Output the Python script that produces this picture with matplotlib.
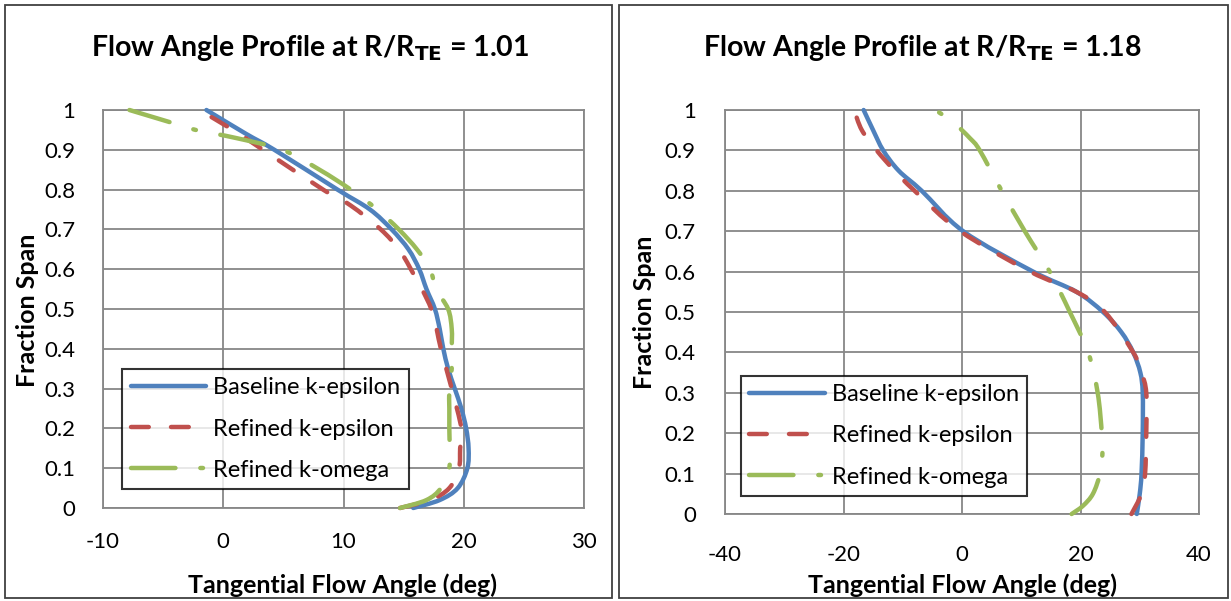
import matplotlib
matplotlib.use("Agg")
import matplotlib.pyplot as plt
from matplotlib.patches import Rectangle, PathPatch
from matplotlib.path import Path
from matplotlib.lines import Line2D

plt.rcParams['font.family'] = ['Lato', 'DejaVu Sans']

series_names = ["Baseline k-epsilon", "Refined k-epsilon", "Refined k-omega"]
colors = ["#4F81BD", "#C0504D", "#9BBB59"]

# Left panel: R/R_TE = 1.01
left_base_x = [15.8, 18.0, 19.5, 20.3, 20.4, 20.2, 19.8, 19.25, 18.7, 18.3, 18.0, 17.6, 16.9, 16.3, 15.4, 14.0, 12.2, 9.5, 4.25, 1.9, -1.4]
left_base_y = [0.0, 0.02, 0.05, 0.1, 0.15, 0.2, 0.25, 0.3, 0.35, 0.4, 0.45, 0.5, 0.55, 0.6, 0.65, 0.7, 0.75, 0.8, 0.9, 0.94, 1.0]
left_ref_x = [14.7, 17.2, 18.8, 19.6, 19.7, 19.8, 19.0, 18.1, 17.3, 15.6, 14.6, 13.1, 10.6, 8.3, 3.3, 0.8, -2.0]
left_ref_y = [0.0, 0.02, 0.05, 0.1, 0.15, 0.2, 0.3, 0.4, 0.5, 0.6, 0.65, 0.7, 0.76, 0.8, 0.9, 0.95, 1.0]
left_om_x = [14.7, 16.9, 18.1, 18.8, 18.8, 18.8, 18.8, 19.0, 19.0, 19.0, 18.7, 17.7, 17.2, 16.1, 14.6, 12.8, 10.6, 8.0, 4.9, 1.0, -2.3, -4.5, -7.8]
left_om_y = [0.0, 0.02, 0.05, 0.1, 0.2, 0.25, 0.3, 0.35, 0.4, 0.45, 0.5, 0.55, 0.6, 0.65, 0.7, 0.75, 0.8, 0.85, 0.9, 0.93, 0.95, 0.97, 1.0]

# Right panel: R/R_TE = 1.18
right_base_x = [29.5, 30.0, 30.3, 30.5, 30.5, 30.1, 28.9, 26.9, 23.8, 19.3, 12.0, 0.2, -6.8, -10.7, -13.3, -15.0, -16.6]
right_base_y = [0.0, 0.05, 0.1, 0.2, 0.3, 0.35, 0.4, 0.45, 0.5, 0.55, 0.6, 0.7, 0.8, 0.85, 0.9, 0.95, 1.0]
right_ref_x = [28.6, 30.3, 30.9, 31.1, 31.1, 30.3, 28.9, 24.1, 19.3, 11.5, -0.3, -8.0, -11.4, -14.4, -16.9, -18.2]
right_ref_y = [0.0, 0.05, 0.1, 0.2, 0.3, 0.35, 0.4, 0.5, 0.55, 0.6, 0.7, 0.8, 0.85, 0.9, 0.95, 1.0]
right_om_x = [18.5, 20.4, 22.1, 23.3, 23.7, 23.6, 22.9, 21.3, 18.2, 14.8, 10.6, 6.7, 3.0, 1.35, -1.5, -4.5]
right_om_y = [0.0, 0.02, 0.05, 0.1, 0.15, 0.2, 0.3, 0.4, 0.5, 0.6, 0.7, 0.8, 0.9, 0.93, 0.97, 1.0]

left_xticks = [-10, 0, 10, 20, 30]
right_xticks = [-40, -20, 0, 20, 40]
yticks = [0, 0.1, 0.2, 0.3, 0.4, 0.5, 0.6, 0.7, 0.8, 0.9, 1.0]
ytick_labels = ["0", "0.1", "0.2", "0.3", "0.4", "0.5", "0.6", "0.7", "0.8", "0.9", "1"]

titles = ["Flow Angle Profile at R/R$_{\\mathbf{TE}}$ = 1.01",
          "Flow Angle Profile at R/R$_{\\mathbf{TE}}$ = 1.18"]
xlabel = "Tangential Flow Angle (deg)"
ylabel = "Fraction Span"

W, H = 1231, 601
fig = plt.figure(figsize=(W / 100, H / 100), dpi=100)

# panel borders
for x0, x1 in [(5, 612), (619, 1228)]:
    fig.patches.append(Rectangle((x0 / W, 3 / H), (x1 - x0) / W, (H - 8) / H,
                                 transform=fig.transFigure, fill=False,
                                 edgecolor="#404040", linewidth=1.3))

grid_c = "#878787"
lw = 3.2
styles = [
    dict(linestyle="-"),
    dict(linestyle=(0, (4.0, 5.0))),
    dict(linestyle=(0, (10.0, 5.6, 0.6, 5.6))),
]


def smooth_path(xs, ys):
    """Excel-style smoothed line: Catmull-Rom segments as cubic Bezier curves."""
    pts = list(zip(xs, ys))
    n = len(pts)
    verts = [pts[0]]
    codes = [Path.MOVETO]
    for i in range(n - 1):
        p0 = pts[i - 1] if i > 0 else pts[i]
        p1 = pts[i]
        p2 = pts[i + 1]
        p3 = pts[i + 2] if i + 2 < n else pts[i + 1]
        c1 = (p1[0] + (p2[0] - p0[0]) / 6, p1[1] + (p2[1] - p0[1]) / 6)
        c2 = (p2[0] - (p3[0] - p1[0]) / 6, p2[1] - (p3[1] - p1[1]) / 6)
        verts += [c1, c2, p2]
        codes += [Path.CURVE4] * 3
    return Path(verts, codes)


def make_panel(rect, xlim, xticks, data, title, title_x, xpad, ypad, legend_anchor):
    ax = fig.add_axes(rect)
    ax.set_xlim(*xlim)
    ax.set_ylim(0, 1)
    ax.set_xticks(xticks)
    ax.set_xticklabels([str(t) for t in xticks])
    ax.set_yticks(yticks)
    ax.set_yticklabels(ytick_labels)
    ax.grid(True, color=grid_c, linewidth=1.3)
    ax.set_axisbelow(True)
    for s in ax.spines.values():
        s.set_color(grid_c)
        s.set_linewidth(1.3)
    ax.tick_params(length=0, labelsize=16, colors="black")
    ax.tick_params(axis="x", pad=xpad)
    ax.tick_params(axis="y", pad=ypad)
    handles = []
    for (xs, ys), c, st, name in zip(data, colors, styles, series_names):
        patch = PathPatch(smooth_path(xs, ys), fill=False, edgecolor=c, linewidth=lw,
                          linestyle=st["linestyle"], capstyle="round",
                          joinstyle="round", clip_on=False, zorder=3)
        ax.add_patch(patch)
        handles.append(Line2D([], [], color=c, lw=lw, linestyle=st["linestyle"],
                              dash_capstyle="round", solid_capstyle="round"))
    leg = ax.legend(handles, series_names, loc="lower left", bbox_to_anchor=legend_anchor,
                    fontsize=17, frameon=True, fancybox=False, handlelength=3.2,
                    handletextpad=0.3, borderpad=0.35, labelspacing=0.85, borderaxespad=0)
    leg.get_frame().set_edgecolor("black")
    leg.get_frame().set_linewidth(1.5)
    leg.set_zorder(5)
    fig.text(title_x, 1 - 48 / H, title, ha="center", va="center", fontsize=20.5,
             fontweight="bold")
    return ax


ax1 = make_panel([103 / W, 1 - 508 / H, (584 - 103) / W, (508 - 110) / H], (-10, 30),
                 left_xticks,
                 ((left_base_x, left_base_y), (left_ref_x, left_ref_y), (left_om_x, left_om_y)),
                 titles[0], 310 / W, 17, 20, (0.04, 0.048))
ax2 = make_panel([725 / W, 1 - 514 / H, (1199 - 725) / W, (514 - 110) / H], (-40, 40),
                 right_xticks,
                 ((right_base_x, right_base_y), (right_ref_x, right_ref_y), (right_om_x, right_om_y)),
                 titles[1], 922 / W, 22, 21, (0.034, 0.045))

for cx, cy in [(343, 585), (962, 585)]:
    fig.text(cx / W, 1 - cy / H, xlabel, ha="center", va="center", fontsize=18,
             fontweight="bold")
for cx, cy in [(28, 310), (645, 312)]:
    fig.text(cx / W, 1 - cy / H, ylabel, ha="center", va="center", rotation=90,
             fontsize=18, fontweight="bold")

fig.savefig("out.png", dpi=100)
